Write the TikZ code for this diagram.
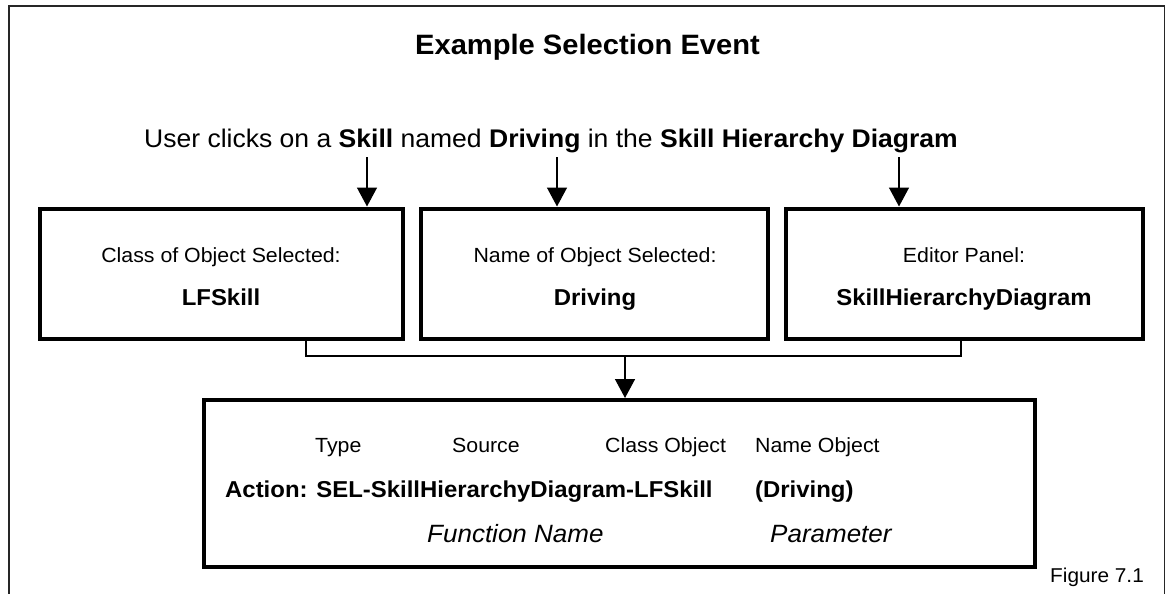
\documentclass[tikz,border=0pt]{standalone}
\usepackage{fontspec}
\setmainfont[FakeStretch=1.04]{Liberation Sans}
\usetikzlibrary{arrows.meta}

\tikzset{
  frameline/.style={line width=1.8pt, draw=black!85},
  panel/.style={draw, line width=4pt, rectangle, inner sep=0pt},
  thinline/.style={line width=1.5pt},
  arr/.style={thinline, -{Triangle[width=20pt,length=19pt]}},
  txt/.style={inner sep=0pt, anchor=base},
  txtl/.style={inner sep=0pt, anchor=base west},
  small/.style={font=\fontsize{20.5}{24}\selectfont},
  boldval/.style={font=\fontsize{23}{27}\selectfont\bfseries},
  ital/.style={font=\fontsize{25}{29}\selectfont\itshape},
}

\begin{document}
\begin{tikzpicture}[x=1pt, y=-1pt]
  \useasboundingbox (0,0) rectangle (1167,594);
  \fill[white] (0,0) rectangle (1167,594);

  % open frame (no bottom edge)
  \draw[frameline] (9,594) -- (9,6) -- (1164.5,6) -- (1164.5,594);

  % heading and event sentence
  \node[txt, font=\fontsize{28}{32}\selectfont\bfseries] (title) at (587.5,55) {Example Selection Event};
  \node[txtl, font=\fontsize{25.5}{30}\selectfont] (event) at (144,147)
    {User clicks on a \textbf{Skill} named \textbf{Driving} in the \textbf{Skill Hierarchy Diagram}};

  % the three attribute panels
  \node[panel, minimum width=363pt, minimum height=130pt] (b1) at (221.5,273.5) {};
  \node[panel, minimum width=347pt, minimum height=130pt] (b2) at (594.5,273.5) {};
  \node[panel, minimum width=357pt, minimum height=130pt] (b3) at (964.5,273.5) {};

  \node[txt, small] (b1l) at (221,262) {Class of Object Selected:};
  \node[txt, boldval] (b1v) at (221,305) {LFSkill};
  \node[txt, small] (b2l) at (595,262) {Name of Object Selected:};
  \node[txt, boldval] (b2v) at (595,305) {Driving};
  \node[txt, small] (b3l) at (964,262) {Editor Panel:};
  \node[txt, boldval] (b3v) at (964,305) {SkillHierarchyDiagram};

  % arrows from the sentence into the panels
  \coordinate (s1) at (367,157);
  \coordinate (s2) at (557,157);
  \coordinate (s3) at (899,157);
  \draw[arr] (s1) -- (s1 |- b1.north);
  \draw[arr] (s2) -- (s2 |- b2.north);
  \draw[arr] (s3) -- (s3 |- b3.north);

  % resulting action panel
  \node[panel, minimum width=831pt, minimum height=166.5pt] (b4) at (619.5,483.25) {};

  \node[txtl, small] (hType) at (315,452) {Type};
  \node[txtl, small] (hSrc) at (452,452) {Source};
  \node[txtl, small] (hCls) at (605,452) {Class Object};
  \node[txtl, small] (hName) at (755,452) {Name Object};
  \node[txtl, boldval] (act) at (225,497) {Action: SEL-SkillHierarchyDiagram-LFSkill};
  \node[txtl, boldval] (par) at (755,497) {(Driving)};
  \node[txtl, ital] (fn) at (427,542) {Function Name};
  \node[txtl, ital] (pm) at (770,542) {Parameter};

  % bracket joining panels 1 and 3, then into the action panel
  \coordinate (j1) at (306,356);
  \coordinate (j3) at (961,356);
  \coordinate (jm) at (625,356);
  \draw[thinline] (j1 |- b1.south) -- (j1) -- (j3) -- (j3 |- b3.south);
  \draw[arr] (jm) -- (jm |- b4.north);

  % caption
  \node[txtl, font=\fontsize{20}{24}\selectfont] (fig) at (1050,582) {Figure 7.1};
\end{tikzpicture}
\end{document}
